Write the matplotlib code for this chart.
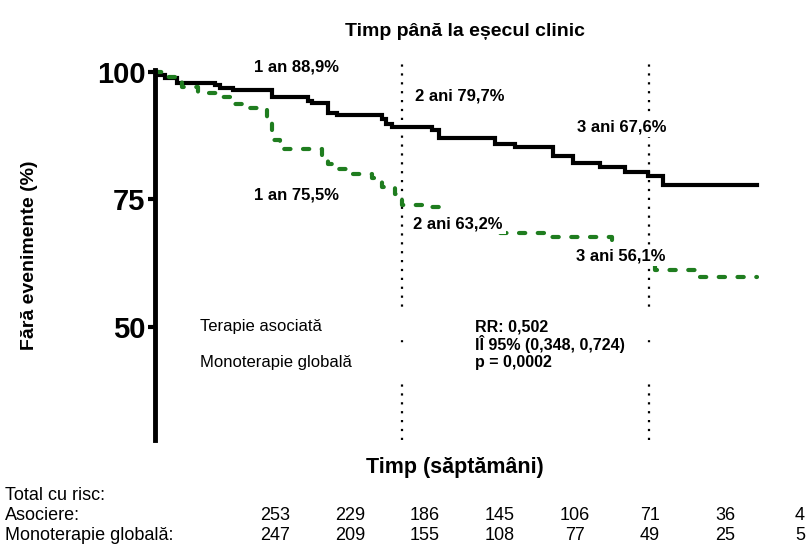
import matplotlib.pyplot as plt

# Kaplan-Meier steps (weeks, % event free)
assoc_t = [0, 0.4, 2.1, 4.6, 12.6, 13.7, 16.4, 24.6, 32.2, 33.1, 36.4, 38.3, 47.8, 48.6, 49.9,
           58.3, 59.8, 71.6, 75.8, 83.8, 88.0, 93.7, 98.9, 103.8, 106.9, 126.7]
assoc_s = [100, 99.4, 98.8, 97.8, 97.5, 96.9, 96.5, 95.1, 94.3, 93.9, 92.0, 91.6, 90.8, 89.8, 89.2,
           88.6, 87.1, 85.9, 85.3, 83.5, 82.2, 81.4, 80.4, 79.6, 77.8, 77.8]

mono_t = [0, 1.5, 2.7, 5.7, 9.1, 12.8, 16.8, 18.9, 23.6, 24.6, 26.3, 35.2, 36.4, 38.1, 41.1,
          45.7, 47.8, 50.5, 52.0, 56.8, 60.5, 72.6, 83.2, 96.2, 105.3, 113.7, 126.7]
mono_s = [100, 99.6, 99.0, 97.1, 95.9, 95.1, 93.7, 92.9, 90.2, 86.7, 84.9, 83.1, 82.0, 81.0, 80.0,
          79.2, 77.5, 76.1, 73.9, 73.5, 70.6, 68.4, 67.6, 64.7, 61.2, 59.8, 59.8]

year_weeks = [52, 104]
yticks = [50, 75, 100]

notes = ["1 an 88,9%", "1 an 75,5%", "2 ani 79,7%", "2 ani 63,2%", "3 ani 67,6%", "3 ani 56,1%"]
note_pos = [(29.7, 101.0), (29.7, 75.9), (64.2, 95.3), (63.8, 70.2), (98.3, 89.2), (98.1, 63.9)]

legend_labels = ["Terapie asociată", "Monoterapie globală"]
stats_lines = ["RR: 0,502", "IÎ 95% (0,348, 0,724)", "p = 0,0002"]

risk_rows = ["Total cu risc:", "Asociere:", "Monoterapie globală:"]
risk_assoc = [253, 229, 186, 145, 106, 71, 36, 4]
risk_mono = [247, 209, 155, 108, 77, 49, 25, 5]

plt.rcParams['font.family'] = ['Liberation Sans', 'DejaVu Sans']
green = '#1f7d1f'

W, H = 807, 544
fig = plt.figure(figsize=(W / 100, H / 100), dpi=100)
ax = fig.add_axes([155 / W, 1 - 440 / H, (772.5 - 155) / W, (440 - 72) / H])

def px(x, y):
    return x / W, 1 - y / H

ax.step(assoc_t, assoc_s, where='post', color='black', lw=3, clip_on=False, zorder=4,
        solid_joinstyle='miter')
ax.step(mono_t, mono_s, where='post', color=green, lw=3, clip_on=False, zorder=4,
        linestyle=(0, (1.5, 3)), dash_capstyle='round')

for w in year_weeks:
    ax.axvline(w, ymin=0, ymax=1.035, color='black', lw=1.6, linestyle=(0, (1, 3)),
               clip_on=False, zorder=2)

# white panel behind the legend / statistics block
ax.axhspan(47.6, 53.3, xmin=0.02, color='white', zorder=3)
ax.axhspan(40.2, 46.2, xmin=0.02, color='white', zorder=3)

for txt, (x, y) in zip(notes, note_pos):
    ax.text(x, y, txt, ha='center', va='center', fontsize=12, fontweight='bold', zorder=6,
            bbox=dict(facecolor='white', edgecolor='none', pad=2))

for txt, y in zip(legend_labels, [50.0, 43.1]):
    ax.text(9.5, y, txt, ha='left', va='center', fontsize=12, zorder=6)
for txt, y in zip(stats_lines, [50.0, 46.7, 43.1]):
    ax.text(67.4, y, txt, ha='left', va='center', fontsize=11.5, fontweight='bold', zorder=6)

ax.set_xlim(0, 130)
ax.set_ylim(27.8, 100)
ax.set_yticks(yticks)
ax.set_yticklabels([str(v) for v in yticks], fontsize=21, fontweight='bold')
ax.tick_params(axis='y', length=5, width=3, pad=2)
ax.set_xticks([])
for s in ['top', 'right', 'bottom']:
    ax.spines[s].set_visible(False)
ax.spines['left'].set_linewidth(3.5)
ax.spines['left'].set_bounds(27.8, 100.4)
ax.spines['left'].set_zorder(5)

fig.text(*px(465, 32), "Timp până la eșecul clinic", ha='center', va='center',
         fontsize=14, fontweight='bold')
fig.text(*px(455, 467), "Timp (săptămâni)", ha='center', va='center',
         fontsize=15.5, fontweight='bold')
fig.text(*px(30, 255), "Fără evenimente (%)", ha='center', va='center', rotation=90,
         fontsize=14, fontweight='bold')

row_y = [495, 515, 535]
for txt, y in zip(risk_rows, row_y):
    fig.text(*px(5, y), txt, ha='left', va='center', fontsize=13)
col_x = [275, 350, 425, 500, 575, 650, 725, 800]
for x, a, m in zip(col_x, risk_assoc, risk_mono):
    fig.text(*px(x, row_y[1]), str(a), ha='center', va='center', fontsize=13)
    fig.text(*px(x, row_y[2]), str(m), ha='center', va='center', fontsize=13)

fig.savefig('out.png', dpi=100)
